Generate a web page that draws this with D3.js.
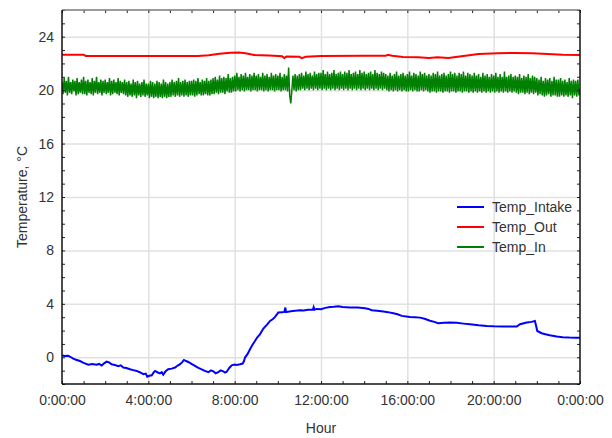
<!DOCTYPE html>
<html>
<head>
<meta charset="utf-8">
<script src="https://cdn.jsdelivr.net/npm/d3@7"></script>
<style>
  html, body { margin: 0; padding: 0; background: #fff; }
  svg text { font-family: "Liberation Sans", Arial, sans-serif; }
</style>
</head>
<body>
<svg id="chart" width="612" height="438"></svg>
<script>
// ---------------- data ----------------
const seriesNames = ["Temp_Intake", "Temp_Out", "Temp_In"];
const seriesColors = ["#0000ff", "#ff0000", "#008000"];

const xTickHours = [0, 4, 8, 12, 16, 20, 24];
const xTickLabels = ["0:00:00", "4:00:00", "8:00:00", "12:00:00", "16:00:00", "20:00:00", "0:00:00"];
const yTickValues = [0, 4, 8, 12, 16, 20, 24];

// Temp_Intake: [hour, °C]
const tempIntake = [
  [0.00, 0.15], [0.10, 0.10], [0.29, 0.12], [0.40, 0.02], [0.52, -0.10], [0.65, -0.18], [0.83, -0.28],
  [1.00, -0.42], [1.22, -0.55], [1.40, -0.50], [1.60, -0.56], [1.72, -0.50], [1.84, -0.62], [1.95, -0.45],
  [2.07, -0.33], [2.18, -0.38], [2.30, -0.52], [2.45, -0.58], [2.61, -0.66], [2.72, -0.60], [2.84, -0.77],
  [2.98, -0.80], [3.15, -0.90], [3.30, -0.96], [3.46, -1.02], [3.60, -1.12], [3.77, -1.27], [3.88, -1.22],
  [3.95, -1.45], [4.05, -1.38], [4.16, -1.35], [4.24, -1.15], [4.31, -1.02], [4.42, -1.12], [4.54, -1.20],
  [4.62, -1.12], [4.69, -1.30], [4.80, -1.05], [4.92, -0.90], [5.08, -0.85], [5.24, -0.77], [5.36, -0.62],
  [5.47, -0.52], [5.56, -0.38], [5.65, -0.20], [5.75, -0.28], [5.85, -0.35], [6.00, -0.50], [6.16, -0.65],
  [6.30, -0.78], [6.47, -0.90], [6.62, -1.02], [6.78, -1.12], [6.90, -0.98], [7.01, -1.05], [7.12, -1.20],
  [7.24, -1.12], [7.35, -0.98], [7.47, -1.05], [7.55, -1.15], [7.63, -1.08], [7.75, -0.80], [7.86, -0.60],
  [8.00, -0.55], [8.09, -0.57], [8.25, -0.52], [8.37, -0.47], [8.43, -0.30], [8.48, -0.02], [8.60, 0.25],
  [8.71, 0.60], [8.82, 0.92], [8.94, 1.22], [9.05, 1.50], [9.17, 1.72], [9.33, 2.15], [9.50, 2.45],
  [9.64, 2.72], [9.76, 2.85], [9.87, 3.02], [9.95, 3.20], [10.02, 3.35], [10.20, 3.38], [10.30, 3.40],
  [10.35, 3.72], [10.38, 3.38], [10.60, 3.45], [10.80, 3.48], [11.03, 3.52], [11.20, 3.50], [11.40, 3.55],
  [11.62, 3.55], [11.66, 3.75], [11.70, 3.56], [11.80, 3.62], [12.00, 3.60], [12.20, 3.70], [12.42, 3.77],
  [12.60, 3.78], [12.80, 3.82], [13.00, 3.76], [13.34, 3.72], [13.70, 3.72], [14.04, 3.67], [14.20, 3.62],
  [14.35, 3.52], [14.60, 3.48], [14.89, 3.42], [15.10, 3.38], [15.35, 3.30], [15.55, 3.22], [15.74, 3.10],
  [15.95, 3.06], [16.12, 3.02], [16.35, 3.00], [16.59, 2.97], [16.80, 2.88], [17.05, 2.74], [17.25, 2.65],
  [17.43, 2.55], [17.70, 2.58], [17.98, 2.60], [18.29, 2.58], [18.60, 2.52], [18.90, 2.47], [19.30, 2.40],
  [19.68, 2.35], [20.00, 2.32], [20.45, 2.30], [20.80, 2.30], [21.07, 2.30], [21.22, 2.47], [21.53, 2.60],
  [21.75, 2.65], [21.91, 2.72], [21.96, 2.40], [22.02, 1.97], [22.22, 1.80], [22.40, 1.72], [22.60, 1.65],
  [22.92, 1.55], [23.20, 1.50], [23.50, 1.48], [23.84, 1.47], [24.00, 1.47]
];

// Temp_Out: [hour, °C]
const tempOut = [
  [0.0, 22.65], [1.0, 22.65], [1.1, 22.56], [3.0, 22.55], [6.3, 22.55], [6.8, 22.62], [7.3, 22.72],
  [7.8, 22.80], [8.2, 22.82], [8.5, 22.76], [8.9, 22.63], [9.6, 22.60], [10.2, 22.53], [10.3, 22.40],
  [10.4, 22.52], [11.0, 22.50], [11.1, 22.40], [11.3, 22.50], [12.0, 22.55], [14.0, 22.57], [15.0, 22.57],
  [15.1, 22.64], [15.3, 22.57], [15.8, 22.49], [16.5, 22.47], [17.0, 22.40], [17.4, 22.46], [17.9, 22.40],
  [18.6, 22.55], [19.3, 22.70], [20.2, 22.77], [21.0, 22.79], [21.8, 22.77], [22.5, 22.70], [23.2, 22.65],
  [24.0, 22.63]
];

// Temp_In: readings every 3 minutes, one row per hour
const tempInByHour = [
  [20.6, 19.7, 20.9, 19.8, 20.7, 19.6, 21.0, 19.8, 20.6, 19.7, 20.8, 19.9, 20.7, 19.6, 20.9, 19.7, 20.6, 19.8, 20.8, 19.7],
  [21.0, 19.7, 20.7, 19.6, 20.8, 19.8, 20.6, 19.7, 20.9, 19.6, 20.7, 19.8, 21.0, 19.7, 20.6, 19.8, 20.8, 19.6, 20.7, 19.8],
  [20.8, 19.7, 20.6, 19.8, 20.9, 19.6, 20.7, 19.7, 20.8, 19.8, 20.6, 19.7, 20.9, 19.6, 20.7, 19.8, 20.6, 19.7, 20.8, 19.6],
  [20.6, 19.5, 20.7, 19.6, 20.5, 19.5, 20.8, 19.6, 20.6, 19.4, 20.7, 19.6, 20.5, 19.5, 20.6, 19.6, 20.8, 19.5, 20.5, 19.6],
  [20.5, 19.4, 20.7, 19.5, 20.6, 19.4, 20.5, 19.5, 20.7, 19.4, 20.6, 19.5, 20.5, 19.4, 20.8, 19.5, 20.6, 19.4, 20.5, 19.5],
  [20.6, 19.5, 20.8, 19.6, 20.6, 19.5, 20.7, 19.6, 20.9, 19.5, 20.6, 19.6, 20.7, 19.5, 20.8, 19.6, 20.6, 19.5, 20.7, 19.6],
  [20.7, 19.6, 20.8, 19.5, 20.7, 19.6, 20.9, 19.7, 20.6, 19.6, 20.8, 19.6, 20.7, 19.7, 20.9, 19.6, 20.7, 19.6, 20.8, 19.7],
  [20.9, 19.7, 21.0, 19.8, 20.8, 19.7, 21.1, 19.8, 20.9, 19.8, 21.0, 19.7, 20.9, 19.9, 21.2, 19.8, 20.9, 19.8, 21.0, 19.9],
  [21.1, 19.9, 21.3, 20.0, 21.0, 19.9, 21.2, 20.0, 21.1, 19.9, 21.3, 20.0, 21.0, 20.0, 21.2, 19.9, 21.1, 20.0, 21.3, 20.0],
  [21.1, 19.9, 21.2, 20.0, 21.0, 20.0, 21.3, 19.9, 21.1, 20.0, 21.2, 19.9, 21.0, 20.0, 21.3, 20.0, 21.1, 19.9, 21.2, 20.0],
  [21.1, 20.0, 21.3, 19.9, 21.0, 20.0, 21.2, 20.0, 21.1, 19.9, 21.7, 19.6, 19.0, 20.0, 21.1, 20.0, 21.2, 19.9, 21.1, 20.0],
  [21.2, 20.0, 21.3, 20.1, 21.1, 20.0, 21.4, 20.1, 21.2, 20.0, 21.3, 20.1, 21.1, 20.0, 21.4, 20.1, 21.2, 20.0, 21.3, 20.1],
  [21.3, 20.0, 21.5, 20.1, 21.2, 20.0, 21.4, 20.1, 21.2, 20.0, 21.3, 20.1, 21.5, 20.0, 21.2, 20.1, 21.3, 20.0, 21.4, 20.1],
  [21.2, 20.0, 21.4, 20.1, 21.3, 20.0, 21.5, 20.1, 21.2, 20.0, 21.3, 20.1, 21.4, 20.0, 21.2, 20.1, 21.5, 20.0, 21.3, 20.1],
  [21.4, 20.0, 21.2, 20.1, 21.3, 20.0, 21.4, 20.1, 21.2, 20.0, 21.5, 20.1, 21.3, 20.0, 21.2, 20.1, 21.4, 20.0, 21.3, 20.1],
  [21.2, 20.0, 21.1, 19.9, 21.3, 20.0, 21.1, 19.9, 21.2, 20.0, 21.4, 19.9, 21.1, 20.0, 21.2, 19.9, 21.3, 20.0, 21.1, 19.9],
  [21.2, 19.9, 21.4, 20.0, 21.1, 19.9, 21.3, 20.0, 21.2, 19.9, 21.1, 19.9, 21.4, 20.0, 21.2, 19.9, 21.3, 20.0, 21.1, 19.9],
  [21.2, 19.8, 21.1, 19.9, 21.3, 19.9, 21.2, 19.8, 21.4, 19.9, 21.1, 19.9, 21.2, 19.8, 21.3, 19.9, 21.1, 19.9, 21.2, 19.8],
  [21.4, 19.9, 21.2, 19.9, 21.3, 19.8, 21.1, 19.9, 21.3, 19.9, 21.2, 19.8, 21.4, 19.9, 21.1, 19.9, 21.3, 19.8, 21.2, 19.9],
  [21.1, 19.8, 21.3, 19.9, 21.1, 19.8, 21.2, 19.9, 21.0, 19.8, 21.3, 19.9, 21.1, 19.8, 21.2, 19.9, 21.0, 19.8, 21.2, 19.9],
  [21.1, 19.8, 21.3, 19.9, 21.0, 19.8, 21.2, 19.9, 21.0, 19.8, 21.4, 19.9, 21.0, 19.8, 21.1, 19.9, 21.2, 19.8, 21.0, 19.9],
  [21.1, 19.8, 21.0, 19.7, 21.2, 19.8, 20.9, 19.8, 21.1, 19.7, 21.0, 19.8, 21.2, 19.7, 20.9, 19.8, 21.1, 19.7, 21.0, 19.8],
  [20.9, 19.6, 20.8, 19.7, 21.0, 19.6, 20.7, 19.5, 20.9, 19.6, 20.8, 19.7, 20.9, 19.5, 20.7, 19.6, 21.0, 19.6, 20.8, 19.5],
  [20.8, 19.5, 20.9, 19.6, 20.7, 19.5, 20.8, 19.6, 20.6, 19.5, 20.9, 19.6, 20.7, 19.4, 20.8, 19.6, 20.7, 19.5, 20.8, 19.6],
  [20.1]
];

// ---------------- chart ----------------
const svg = d3.select("#chart");
const W = 612, H = 438;
const m = { left: 62, right: 32, top: 10, bottom: 54 };
const pw = W - m.left - m.right, ph = H - m.top - m.bottom;

const x = d3.scaleLinear().domain([0, 24]).range([m.left, m.left + pw]);
const y = d3.scaleLinear().domain([-2, 26]).range([m.top + ph, m.top]);

const tempIn = [];
tempInByHour.forEach((row, h) => row.forEach((v, k) => tempIn.push([h + k / 20, v])));

svg.append("rect").attr("width", W).attr("height", H).attr("fill", "#fff");

// grid
svg.append("g")
  .attr("transform", `translate(0,${m.top + ph})`)
  .call(d3.axisBottom(x).tickValues(xTickHours.slice(1, -1)).tickSize(-ph).tickFormat(""))
  .call(g => g.select(".domain").remove())
  .call(g => g.selectAll("line").attr("stroke", "#e1e1e1").attr("stroke-width", 1.5));
svg.append("g")
  .attr("transform", `translate(${m.left},0)`)
  .call(d3.axisLeft(y).tickValues(yTickValues).tickSize(-pw).tickFormat(""))
  .call(g => g.select(".domain").remove())
  .call(g => g.selectAll("line").attr("stroke", "#e1e1e1").attr("stroke-width", 1.5));

// lines
const line = d3.line().x(d => x(d[0])).y(d => y(d[1]));
svg.append("clipPath").attr("id", "clip")
  .append("rect").attr("x", m.left).attr("y", m.top).attr("width", pw).attr("height", ph);
const plot = svg.append("g").attr("clip-path", "url(#clip)");
plot.append("path").datum(tempIn).attr("d", line).attr("fill", "none")
  .attr("stroke", seriesColors[2]).attr("stroke-width", 1.5);
plot.append("path").datum(tempOut).attr("d", line).attr("fill", "none")
  .attr("stroke", seriesColors[1]).attr("stroke-width", 2);
plot.append("path").datum(tempIntake).attr("d", line).attr("fill", "none")
  .attr("stroke", seriesColors[0]).attr("stroke-width", 2);

// inward ticks on all four sides
const minorX = d3.range(0, 25, 1);
const minorY = d3.range(-2, 27, 1);
const tickLen = 3;
svg.append("g").attr("transform", `translate(0,${m.top + ph})`)
  .call(d3.axisBottom(x).tickValues(minorX).tickSize(-tickLen).tickFormat(""))
  .call(g => g.select(".domain").remove()).selectAll("line").attr("stroke", "#222");
svg.append("g").attr("transform", `translate(0,${m.top})`)
  .call(d3.axisTop(x).tickValues(minorX).tickSize(-tickLen).tickFormat(""))
  .call(g => g.select(".domain").remove()).selectAll("line").attr("stroke", "#222");
svg.append("g").attr("transform", `translate(${m.left},0)`)
  .call(d3.axisLeft(y).tickValues(minorY).tickSize(-tickLen).tickFormat(""))
  .call(g => g.select(".domain").remove()).selectAll("line").attr("stroke", "#222");
svg.append("g").attr("transform", `translate(${m.left + pw},0)`)
  .call(d3.axisRight(y).tickValues(minorY).tickSize(-tickLen).tickFormat(""))
  .call(g => g.select(".domain").remove()).selectAll("line").attr("stroke", "#222");

// frame
svg.append("line").attr("x1", m.left).attr("x2", m.left + pw).attr("y1", m.top).attr("y2", m.top)
  .attr("stroke", "#7a7a7a").attr("stroke-width", 1.5);
svg.append("line").attr("x1", m.left).attr("x2", m.left + pw).attr("y1", m.top + ph).attr("y2", m.top + ph)
  .attr("stroke", "#111").attr("stroke-width", 1.5);
svg.append("line").attr("x1", m.left).attr("x2", m.left).attr("y1", m.top).attr("y2", m.top + ph)
  .attr("stroke", "#111").attr("stroke-width", 1.5);
svg.append("line").attr("x1", m.left + pw).attr("x2", m.left + pw).attr("y1", m.top).attr("y2", m.top + ph)
  .attr("stroke", "#111").attr("stroke-width", 1.5);

// tick labels
svg.append("g").attr("transform", `translate(0,${m.top + ph})`)
  .call(d3.axisBottom(x).tickValues(xTickHours).tickSize(0).tickPadding(11)
    .tickFormat((d, i) => xTickLabels[i]))
  .call(g => g.select(".domain").remove())
  .selectAll("text").attr("font-size", 14).attr("fill", "#333")
  .attr("font-family", "Liberation Sans, Arial, sans-serif");
svg.append("g").attr("transform", `translate(${m.left},0)`)
  .call(d3.axisLeft(y).tickValues(yTickValues).tickSize(0).tickPadding(8).tickFormat(d3.format("d")))
  .call(g => g.select(".domain").remove())
  .selectAll("text").attr("font-size", 14).attr("fill", "#333")
  .attr("font-family", "Liberation Sans, Arial, sans-serif");

// axis titles
svg.append("text").attr("x", m.left + pw / 2).attr("y", 433).attr("text-anchor", "middle")
  .attr("font-size", 14).attr("fill", "#333").text("Hour");
svg.append("text").attr("transform", `translate(27,${m.top + ph / 2}) rotate(-90)`)
  .attr("text-anchor", "middle").attr("font-size", 14).attr("fill", "#333").text("Temperature, °C");

// legend
const legend = svg.append("g").attr("transform", "translate(457,207)");
seriesNames.forEach((name, i) => {
  const g = legend.append("g").attr("transform", `translate(0,${i * 20})`);
  g.append("line").attr("x1", 0).attr("x2", 27).attr("y1", 0).attr("y2", 0)
    .attr("stroke", seriesColors[i]).attr("stroke-width", 2);
  g.append("text").attr("x", 35).attr("y", 0).attr("dy", "0.35em")
    .attr("font-size", 14).attr("fill", "#333").text(name);
});
</script>
</body>
</html>
